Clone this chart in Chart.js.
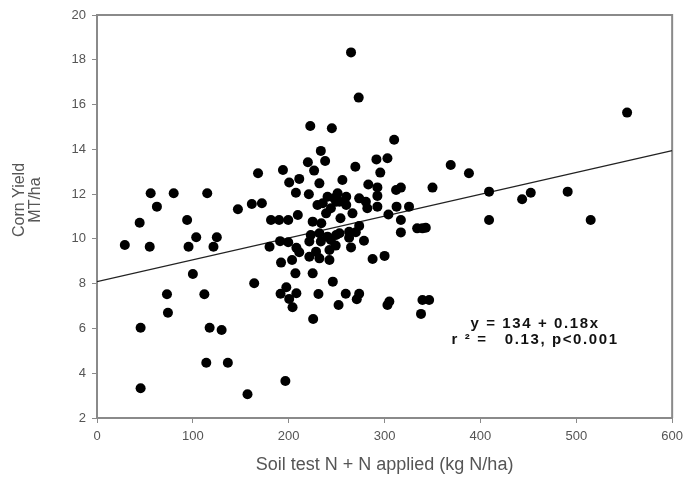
<!DOCTYPE html>
<html>
<head>
<meta charset="utf-8">
<script src="https://cdn.jsdelivr.net/npm/chart.js@4"></script>
<style>
  html, body { margin: 0; padding: 0; background: #fff; }
</style>
</head>
<body>
<canvas id="grafico" width="689" height="489"></canvas>
<script>
// soil test N + N applied (kg N/ha)
const nAplicado = [
  29, 44.5, 45.5, 45.5, 55, 56, 62.5, 73, 74, 80,
  94, 95.5, 100, 103.5, 112, 114, 115, 117.5, 121.5, 125,
  130, 136.5, 147, 157, 161.5, 164, 168, 172, 180, 181.5,
  190, 199.5, 209.5, 191, 199.5, 208, 211, 192, 203.5, 207,
  191.5, 197.5, 208, 200.5, 204, 196.5, 194, 200.5, 211, 207.5,
  220, 222.5, 226.5, 233.5, 238, 245, 232, 221, 225, 234,
  239, 244, 249.5, 235.5, 230, 240.5, 247.5, 223, 232, 240.5,
  249.5, 221.5, 228.5, 221.5, 233.5, 244, 242.5, 232, 242.5, 225,
  246, 231, 225.5, 252, 259.5, 256, 251, 260, 253, 260,
  254, 263, 253, 249, 263, 265, 265, 273, 269.5, 266.5,
  273.5, 270, 273.5, 280.5, 282, 283, 292.5, 292.5, 292.5, 291.5,
  303, 295.5, 278.5, 287.5, 300, 271, 273.5, 303, 305, 304,
  310, 312, 317, 312.5, 325.5, 317, 317, 334, 339.5, 343,
  350, 369, 388, 409, 409, 452.5, 443.5, 491, 515, 553,
  338, 339.5, 346.5
];
// corn yield (MT/ha)
const rendimiento = [
  9.73, 10.72, 6.03, 3.33, 9.65, 12.04, 11.44, 7.53, 6.70, 12.04,
  10.84, 9.65, 8.43, 10.07, 7.53, 4.47, 12.04, 6.03, 9.65, 10.07,
  5.93, 4.47, 11.32, 3.06, 11.56, 8.02, 12.93, 11.59, 9.65, 10.84,
  10.84, 10.84, 11.07, 9.9, 9.85, 9.6, 9.4, 8.94, 9.06, 8.46,
  7.55, 7.84, 7.57, 7.32, 6.95, 3.65, 13.08, 12.52, 12.68, 12.06,
  13.42, 15.04, 13.05, 13.93, 13.48, 14.94, 12.48, 11.99, 10.77, 10.70,
  11.14, 11.37, 11.66, 11.59, 11.51, 11.88, 11.81, 10.17, 10.25, 10.10,
  10.17, 9.88, 9.43, 9.2, 9.88, 9.95, 9.5, 9.13, 9.06, 8.46,
  8.09, 7.54, 6.42, 7.05, 7.55, 12.63, 12.04, 11.88, 11.66, 11.51,
  10.92, 10.32, 10.25, 9.7, 10.05, 9.62, 18.33, 16.31, 13.22, 11.14,
  10.58, 10.3, 11.81, 11.66, 11.37, 12.43, 12.3, 11.92, 11.44, 13.55,
  13.6, 12.96, 9.92, 9.1, 9.24, 7.3, 7.55, 7.05, 7.2, 11.09,
  14.43, 12.18, 12.29, 11.44, 11.44, 10.84, 10.29, 10.47, 10.47, 10.5,
  12.29, 13.30, 12.93, 12.11, 10.84, 12.06, 11.77, 12.11, 10.84, 15.64,
  6.65, 7.27, 7.27
];
// regression line end points
const rectaX = [0, 600];
const rectaY = [8.09, 13.94];

const ecuacion = ['y = 134 + 0.18x', 'r \u00b2 =   0.13, p<0.001'];
const tituloY = ['Corn Yield', 'MT/ha'];
const tituloX = 'Soil test N + N applied (kg N/ha)';

const puntos = nAplicado.map((x, i) => ({ x: x, y: rendimiento[i] }));
const recta = rectaX.map((x, i) => ({ x: x, y: rectaY[i] }));

const gris = '#8a8a8a';
const grisTexto = '#555';

const marco = {
  id: 'marco',
  beforeDatasetsDraw(chart) {
    const { ctx, chartArea: a } = chart;
    ctx.save();
    ctx.strokeStyle = gris;
    ctx.lineWidth = 2;
    ctx.beginPath();
    ctx.moveTo(a.left, a.top);
    ctx.lineTo(a.right, a.top);
    ctx.lineTo(a.right, a.bottom);
    ctx.stroke();
    ctx.restore();
  }
};

const textos = {
  id: 'textos',
  afterDraw(chart) {
    const { ctx, scales } = chart;
    ctx.save();
    // titulo eje y, dos lineas
    ctx.fillStyle = grisTexto;
    ctx.font = '16px "Liberation Sans", Arial, sans-serif';
    ctx.textAlign = 'center';
    ctx.textBaseline = 'middle';
    tituloY.forEach((t, i) => {
      ctx.save();
      ctx.translate(20 + i * 16, 200);
      ctx.rotate(-Math.PI / 2);
      ctx.fillText(t, 0, 0);
      ctx.restore();
    });
    // ecuacion
    ctx.fillStyle = '#111';
    ctx.font = 'bold 15px "Liberation Sans", Arial, sans-serif';
    ctx.letterSpacing = '1.6px';
    const cx = scales.x.getPixelForValue(457);
    ctx.fillText(ecuacion[0], cx, scales.y.getPixelForValue(6.2));
    ctx.fillText(ecuacion[1], cx, scales.y.getPixelForValue(5.5));
    ctx.restore();
  }
};

const ctx = document.getElementById('grafico').getContext('2d');
const miGrafico = new Chart(ctx, {
  type: 'scatter',
  data: {
    datasets: [{
      label: 'datos',
      data: puntos,
      backgroundColor: '#000',
      borderWidth: 0,
      pointRadius: 5,
      order: 0
    }, {
      type: 'line',
      label: 'ajuste',
      data: recta,
      borderColor: '#222',
      borderWidth: 1.2,
      pointRadius: 0,
      fill: false,
      order: 1
    }]
  },
  options: {
    responsive: false,
    animation: false,
    layout: { padding: { top: 15, right: 16, left: 0, bottom: 0 } },
    plugins: {
      legend: { display: false },
      tooltip: { enabled: false }
    },
    scales: {
      x: {
        type: 'linear',
        min: 0,
        max: 600,
        afterFit(scale) { scale.height = 71; },
        ticks: {
          stepSize: 100,
          color: grisTexto,
          padding: 6,
          font: { family: '"Liberation Sans", Arial, sans-serif', size: 13 }
        },
        grid: { display: true, drawOnChartArea: false, drawTicks: true, tickLength: 5, color: gris },
        border: { display: true, color: gris, width: 2 },
        title: {
          display: true,
          text: tituloX,
          color: grisTexto,
          padding: { top: 0, bottom: 13 },
          font: { family: '"Liberation Sans", Arial, sans-serif', size: 18 }
        }
      },
      y: {
        min: 2,
        max: 20,
        afterFit(scale) { scale.width = 97; },
        ticks: {
          stepSize: 2,
          color: grisTexto,
          padding: 6,
          font: { family: '"Liberation Sans", Arial, sans-serif', size: 13 }
        },
        grid: { display: true, drawOnChartArea: false, drawTicks: true, tickLength: 5, color: gris },
        border: { display: true, color: gris, width: 2 }
      }
    }
  },
  plugins: [marco, textos]
});
</script>
</body>
</html>
